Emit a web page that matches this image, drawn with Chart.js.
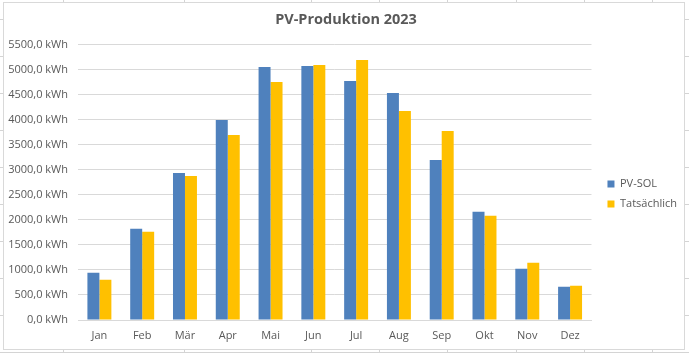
<!DOCTYPE html>
<html>
<head>
<meta charset="utf-8">
<script src="https://cdn.jsdelivr.net/npm/chart.js@4.4.1/dist/chart.umd.min.js"></script>
<style>
  html, body { margin: 0; padding: 0; }
  body {
    width: 689px; height: 353px; position: relative; overflow: hidden;
    background-color: #fff;
    background-image:
      repeating-linear-gradient(to bottom, transparent 0, transparent 19px, #d4d4d4 19px, #d4d4d4 20px, transparent 20px, transparent 37px),
      linear-gradient(to right, transparent 63px, #d4d4d4 63px, #d4d4d4 64px, transparent 64px, transparent 184px, #d4d4d4 184px, #d4d4d4 185px, transparent 185px, transparent 311px, #d4d4d4 311px, #d4d4d4 312px, transparent 312px, transparent 379px, #d4d4d4 379px, #d4d4d4 380px, transparent 380px, transparent 447px, #d4d4d4 447px, #d4d4d4 448px, transparent 448px, transparent 516px, #d4d4d4 516px, #d4d4d4 517px, transparent 517px, transparent 584px, #d4d4d4 584px, #d4d4d4 585px, transparent 585px, transparent 652px, #d4d4d4 652px, #d4d4d4 653px, transparent 653px);
  }
  #box {
    position: absolute; left: 3px; top: 2px; width: 680px; height: 346px;
    background: #fff; border: 1px solid #d9d9d9;
  }
</style>
</head>
<body>
<div id="box"><canvas id="pv"></canvas></div>
<script>
const monate = ["Jan", "Feb", "Mär", "Apr", "Mai", "Jun", "Jul", "Aug", "Sep", "Okt", "Nov", "Dez"];
const pvSol = [943, 1819, 2935, 3991, 5047, 5068, 4769, 4529, 3194, 2158, 1022, 664];
const tatsaechlich = [803, 1760, 2876, 3692, 4749, 5087, 5187, 4171, 3772, 2079, 1142, 683];
const yMax = 5500;
const yStep = 500;

const textColor = "#595959";
const gridColor = "#d9d9d9";
const schrift = "'Open Sans', 'Noto Sans', sans-serif";

const formatKwh = (val) => val.toFixed(1).replace(".", ",") + " kWh";

// Legende und Titel etwas verschieben wie im Excel-Diagramm
const boxOffset = {
  id: "boxOffset",
  afterLayout(chart) {
    const lg = chart.legend;
    if (lg) {
      lg.left += 7; lg.right += 7;
      lg.top += 18; lg.bottom += 18;
    }
    const tb = chart.titleBlock;
    if (tb) {
      tb.left += 4; tb.right += 4;
    }
  }
};

const ctx = document.getElementById("pv");
const chart = new Chart(ctx, {
  type: "bar",
  data: {
    labels: monate,
    datasets: [
      {
        label: "PV-SOL",
        data: pvSol,
        backgroundColor: "#4f81bd",
        categoryPercentage: 0.56,
        barPercentage: 1.0,
      },
      {
        label: "Tatsächlich",
        data: tatsaechlich,
        backgroundColor: "#ffc000",
        categoryPercentage: 0.56,
        barPercentage: 1.0,
      }
    ]
  },
  options: {
    responsive: true,
    maintainAspectRatio: false,
    animation: false,
    layout: { padding: { left: 0, right: 4, top: 0, bottom: 0 } },
    scales: {
      x: {
        afterFit: (scale) => { scale.height = 29; },
        grid: { display: false, drawTicks: false },
        border: { display: true, color: gridColor },
        ticks: {
          color: textColor,
          padding: 9,
          font: { family: schrift, size: 11 }
        }
      },
      y: {
        min: 0,
        max: yMax,
        afterFit: (scale) => { scale.width = 74; },
        grid: { color: gridColor, drawTicks: false },
        border: { display: false },
        ticks: {
          stepSize: yStep,
          color: textColor,
          padding: 10,
          font: { family: schrift, size: 11 },
          callback: (val) => formatKwh(val)
        }
      }
    },
    plugins: {
      title: {
        display: true,
        text: "PV-Produktion 2023",
        color: textColor,
        font: { family: schrift, size: 14.5, weight: "bold" },
        padding: { top: 8, bottom: 16 }
      },
      legend: {
        position: "right",
        labels: {
          color: textColor,
          boxWidth: 7,
          boxHeight: 7,
          padding: 9,
          font: { family: schrift, size: 11 }
        }
      },
      tooltip: { enabled: false }
    }
  },
  plugins: [boxOffset]
});
</script>
</body>
</html>
